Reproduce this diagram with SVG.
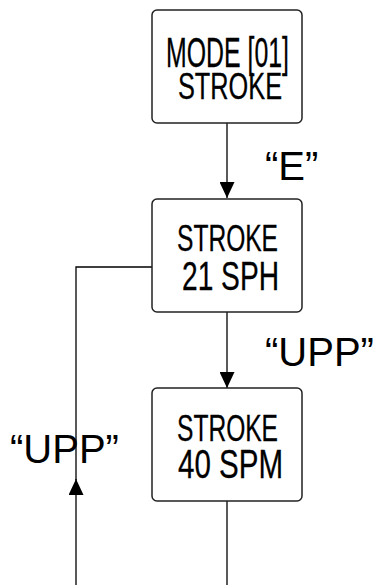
<svg xmlns="http://www.w3.org/2000/svg" width="380" height="585" viewBox="0 0 380 585">
<style>
.box{fill:#fff;stroke:#222;stroke-width:1.5}
.t{font-family:"Liberation Sans",Arial,sans-serif;fill:#000}
.n{stroke:#000;stroke-width:0.3}
.c{fill:none;stroke:#000;stroke-width:1.3}
</style>
<defs>
<marker id="ah" markerUnits="userSpaceOnUse" markerWidth="16" markerHeight="15" refX="16" refY="7.5" orient="auto">
<path d="M0,0 L16,7.5 L0,15 Z" fill="#000"/>
</marker>
</defs>
<rect width="380" height="585" fill="#fff"/>
<g id="connectors">
<line class="c" x1="227" y1="123" x2="227" y2="198" marker-end="url(#ah)"/>
<line class="c" x1="227" y1="312" x2="227" y2="388" marker-end="url(#ah)"/>
<line class="c" x1="227" y1="501" x2="227" y2="585"/>
<line class="c" x1="76" y1="585" x2="76" y2="479" marker-end="url(#ah)"/>
<polyline class="c" points="76,480 76,267 152,267"/>
</g>
<g id="node1">
<rect class="box" x="152" y="10" width="150" height="113" rx="5"/>
<text class="t n" x="166" y="67" font-size="43" textLength="123" lengthAdjust="spacingAndGlyphs">MODE [01]</text>
<text class="t n" x="178" y="99" font-size="37" textLength="104" lengthAdjust="spacingAndGlyphs">STROKE</text>
</g>
<g id="node2">
<rect class="box" x="152" y="199" width="150" height="113" rx="5"/>
<text class="t n" x="177" y="251" font-size="37" textLength="101" lengthAdjust="spacingAndGlyphs">STROKE</text>
<text class="t n" x="182" y="290" font-size="41" textLength="97" lengthAdjust="spacingAndGlyphs">21 SPH</text>
</g>
<g id="node3">
<rect class="box" x="152" y="388" width="150" height="113" rx="5"/>
<text class="t n" x="177" y="441" font-size="37" textLength="101" lengthAdjust="spacingAndGlyphs">STROKE</text>
<text class="t n" x="178" y="478" font-size="40" textLength="105" lengthAdjust="spacingAndGlyphs">40 SPM</text>
</g>
<g id="labels">
<text class="t" x="265" y="180" font-size="40">“E”</text>
<text class="t" x="265" y="366" font-size="40">“UPP”</text>
<text class="t" x="10" y="463" font-size="40">“UPP”</text>
</g>
</svg>
